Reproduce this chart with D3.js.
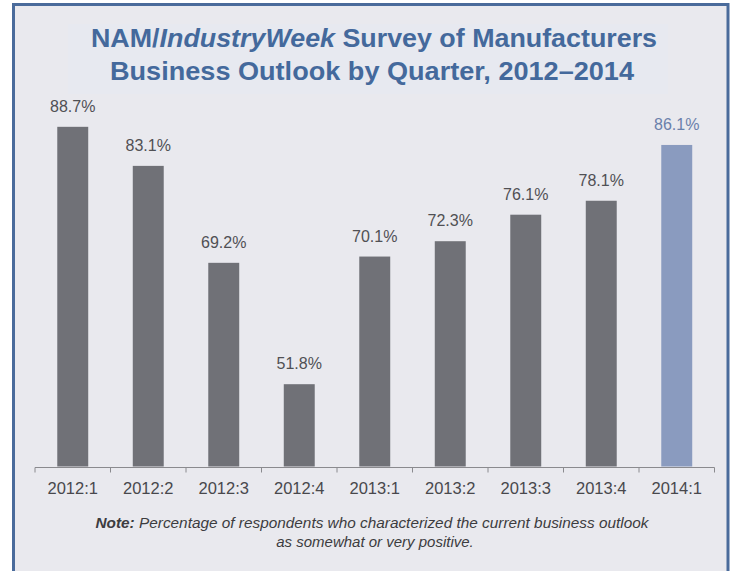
<!DOCTYPE html>
<html>
<head>
<meta charset="utf-8">
<script src="https://cdn.jsdelivr.net/npm/d3@7"></script>
<style>
  html, body { margin: 0; padding: 0; background: #ffffff; }
  svg { display: block; }
</style>
</head>
<body>
<svg id="chart" width="734" height="571"></svg>
<script>
// ---- data ----
const categories = ["2012:1", "2012:2", "2012:3", "2012:4", "2013:1", "2013:2", "2013:3", "2013:4", "2014:1"];
const values = [88.7, 83.1, 69.2, 51.8, 70.1, 72.3, 76.1, 78.1, 86.1];
const valueLabels = ["88.7%", "83.1%", "69.2%", "51.8%", "70.1%", "72.3%", "76.1%", "78.1%", "86.1%"];
const highlighted = ["2014:1"];
const yDomain = [40, 100];
const titleLine1 = [
  { text: "NAM/", italic: false },
  { text: "IndustryWeek", italic: true },
  { text: " Survey of Manufacturers", italic: false }
];
const titleLine2 = "Business Outlook by Quarter, 2012\u20132014";
const noteLabel = "Note:";
const noteLine1 = " Percentage of respondents who characterized the current business outlook";
const noteLine2 = "as somewhat or very positive.";

// ---- drawing ----
const svg = d3.select("#chart");
const W = 734, H = 571;

// frame
svg.append("rect").attr("x", 0).attr("y", 0).attr("width", W).attr("height", H).attr("fill", "#ffffff");
svg.append("rect").attr("x", 13.5).attr("y", 4.5).attr("width", 714.5).attr("height", 580)
  .attr("fill", "#e9e9ee").attr("stroke", "#4a6b9b").attr("stroke-width", 3);
// faint title backdrop
svg.append("rect").attr("x", 68).attr("y", 24).attr("width", 600).attr("height", 70).attr("fill", "#e7e9f0");

const font = "'Liberation Sans', Arial, sans-serif";

// title
const t1 = svg.append("text").attr("x", 374).attr("y", 46.5).attr("text-anchor", "middle")
  .attr("font-family", font).attr("font-size", 26).attr("font-weight", "bold").attr("fill", "#44699c")
  .attr("textLength", 566).attr("lengthAdjust", "spacingAndGlyphs");
titleLine1.forEach(p => t1.append("tspan").attr("font-style", p.italic ? "italic" : "normal").text(p.text));
svg.append("text").attr("x", 372).attr("y", 80).attr("text-anchor", "middle")
  .attr("font-family", font).attr("font-size", 26).attr("font-weight", "bold").attr("fill", "#44699c")
  .attr("textLength", 524).attr("lengthAdjust", "spacingAndGlyphs")
  .text(titleLine2);

// scales
const x = d3.scaleBand().domain(categories).range([35, 714.5]).paddingInner(0.59).paddingOuter(0.295);
const y = d3.scaleLinear().domain(yDomain).range([466.5, 48]);

// bars
svg.append("g").selectAll("rect").data(categories).join("rect")
  .attr("x", d => x(d))
  .attr("width", x.bandwidth())
  .attr("y", (d, i) => y(values[i]))
  .attr("height", (d, i) => y(yDomain[0]) - y(values[i]))
  .attr("fill", d => highlighted.includes(d) ? "#8a9bbf" : "#707177");

// value labels
svg.append("g").selectAll("text").data(categories).join("text")
  .attr("x", d => x(d) + x.bandwidth() / 2)
  .attr("y", (d, i) => y(values[i]) - 15)
  .attr("text-anchor", "middle")
  .attr("font-family", font).attr("font-size", 16)
  .attr("fill", d => highlighted.includes(d) ? "#6a80ab" : "#505054")
  .text((d, i) => valueLabels[i]);

// x axis: baseline with ticks at band boundaries
const axisY = 467.5;
const step = x.step();
const r0 = x.range()[0];
const axisG = svg.append("g");
axisG.append("line").attr("x1", r0).attr("x2", x.range()[1]).attr("y1", axisY).attr("y2", axisY)
  .attr("stroke", "#8a8a8e").attr("stroke-width", 1);
axisG.selectAll("line.tick").data(d3.range(categories.length + 1)).join("line")
  .attr("class", "tick")
  .attr("x1", i => r0 + i * step).attr("x2", i => r0 + i * step)
  .attr("y1", axisY).attr("y2", axisY + 5)
  .attr("stroke", "#8a8a8e").attr("stroke-width", 1);
axisG.selectAll("text").data(categories).join("text")
  .attr("x", d => x(d) + x.bandwidth() / 2)
  .attr("y", 493.5)
  .attr("text-anchor", "middle")
  .attr("font-family", font).attr("font-size", 16.5)
  .attr("fill", "#48484c")
  .text(d => d);

// note
const n1 = svg.append("text").attr("x", 372).attr("y", 528).attr("text-anchor", "middle")
  .attr("font-family", font).attr("font-size", 15).attr("font-style", "italic").attr("fill", "#3c3c40")
  .attr("textLength", 553).attr("lengthAdjust", "spacingAndGlyphs");
n1.append("tspan").attr("font-weight", "bold").text(noteLabel);
n1.append("tspan").text(noteLine1);
svg.append("text").attr("x", 375).attr("y", 547).attr("text-anchor", "middle")
  .attr("font-family", font).attr("font-size", 15).attr("font-style", "italic").attr("fill", "#3c3c40")
  .text(noteLine2);
</script>
</body>
</html>
